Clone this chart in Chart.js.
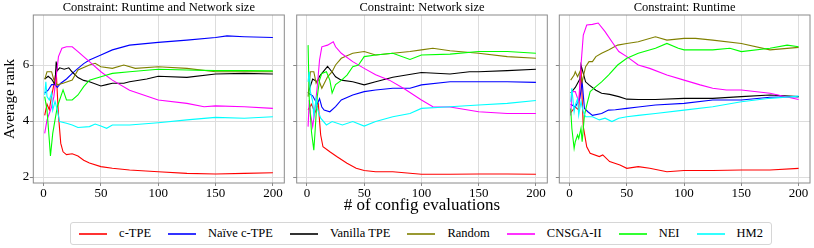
<!DOCTYPE html>
<html><head><meta charset="utf-8">
<script src="https://cdn.jsdelivr.net/npm/chart.js@4/dist/chart.umd.min.js"></script>
<style>
html,body{margin:0;padding:0;background:#fff;}
#wrap{position:relative;width:814px;height:248px;overflow:hidden;background:#fff;font-family:'Liberation Serif','Times New Roman',serif;}
canvas{position:absolute;top:0;}
#legendWrap{position:absolute;left:0;top:222px;width:842px;display:flex;justify-content:center;}
#legend{display:flex;align-items:center;height:21px;border:1px solid #d6d6d6;border-radius:3px;padding:0 8px;font-size:12.5px;color:#000;white-space:nowrap;}
.item{display:flex;align-items:center;margin-right:17px;}
.item:last-child{margin-right:0;}
.swatch{display:block;margin-right:12px;}
</style></head><body>
<div id="wrap">
<canvas id="c1" width="290" height="200" style="left:0px"></canvas>
<canvas id="c2" width="264" height="216" style="left:290px"></canvas>
<canvas id="c3" width="260" height="200" style="left:554px"></canvas>
<div id="legendWrap"><div id="legend"></div></div>
</div>
<script>
// ---- labels ----
const seriesNames = ['c-TPE', 'Naïve c-TPE', 'Vanilla TPE', 'Random', 'CNSGA-II', 'NEI', 'HM2'];
const seriesColors = ['#ff0000', '#0000ff', '#000000', '#808000', '#ff00ff', '#00ff00', '#00ffff'];
const panelTitles = ['Constraint: Runtime and Network size', 'Constraint: Network size', 'Constraint: Runtime'];
const xTicks = [0, 50, 100, 150, 200];
const yTicks = [2, 4, 6];
const xLabel = '# of config evaluations';
const yLabel = 'Average rank';

// ---- Panel 1: Runtime and Network size  ([evaluation, average rank]) ----
const rn_ctpe = [[1,4.2],[3,4.6],[5,4.4],[7,4.9],[9,5.3],[11,5.8],[13,4.2],[15,3.2],[17,2.9],[20,2.8],[25,2.83],[30,2.75],[35,2.6],[40,2.5],[50,2.37],[60,2.31],[75,2.25],[100,2.19],[125,2.13],[150,2.11],[175,2.13],[200,2.15]];
const rn_naive = [[1,5.0],[4,5.1],[7,5.3],[10,5.3],[12,5.2],[15,5.35],[20,5.5],[25,5.7],[30,5.88],[35,6.05],[40,6.18],[50,6.36],[60,6.54],[75,6.71],[100,6.81],[125,6.89],[150,6.98],[160,7.04],[175,7.01],[200,6.98]];
const rn_vanilla = [[1,5.5],[4,5.6],[7,5.5],[10,5.3],[11,6.12],[12,5.8],[14,5.9],[18,5.85],[22,5.9],[25,5.75],[30,5.55],[35,5.45],[40,5.4],[50,5.25],[55,5.3],[60,5.35],[70,5.35],[75,5.4],[90,5.5],[100,5.6],[125,5.56],[150,5.68],[175,5.7],[200,5.68]];
const rn_random = [[1,5.49],[3,5.76],[7,5.76],[9,5.46],[12,5.29],[17,5.35],[25,5.46],[30,5.82],[40,6.0],[45,6.06],[50,5.94],[60,5.88],[70,6.0],[80,5.88],[100,5.94],[125,5.88],[150,5.76],[175,5.76],[200,5.76]];
const rn_cnsga = [[1,3.56],[3,4.04],[5,4.27],[7,4.51],[9,4.87],[11,5.58],[13,6.3],[16,6.6],[20,6.65],[25,6.65],[30,6.48],[35,6.3],[40,6.12],[50,5.76],[60,5.46],[75,5.1],[100,4.75],[125,4.63],[140,4.51],[150,4.54],[175,4.51],[200,4.45]];
const rn_nei = [[1,4.87],[3,4.39],[5,3.32],[6,2.75],[8,3.56],[10,4.04],[12,4.51],[14,4.75],[17,5.11],[20,4.75],[25,4.75],[30,4.93],[35,5.23],[40,5.46],[50,5.58],[60,5.7],[75,5.76],[100,5.85],[125,5.82],[150,5.8],[175,5.8],[200,5.79]];
const rn_hm2 = [[1,4.93],[2,5.4],[3,4.87],[5,4.75],[7,5.0],[8,4.39],[10,4.7],[12,4.39],[14,3.98],[20,3.92],[25,3.86],[30,3.77],[40,3.8],[45,3.89],[50,3.82],[55,3.74],[60,3.86],[75,3.86],[100,3.94],[125,4.04],[150,4.13],[175,4.1],[200,4.15]];

// ---- Panel 2: Network size ----
const n_ctpe = [[1,4.4],[4,4.6],[7,4.3],[10,4.6],[11,4.0],[12,3.5],[14,3.08],[20,2.9],[26,2.73],[35,2.49],[43,2.31],[50,2.23],[60,2.19],[75,2.19],[100,2.1],[125,2.1],[150,2.11],[175,2.11],[200,2.1]];
const n_naive = [[1,5.0],[5,4.9],[9,4.6],[11,4.8],[13,4.5],[15,4.39],[20,4.33],[25,4.51],[30,4.75],[40,4.93],[50,5.05],[60,5.11],[75,5.17],[90,5.17],[100,5.29],[125,5.4],[150,5.4],[175,5.4],[200,5.38]];
const n_vanilla = [[1,5.0],[5,5.5],[9,5.4],[11,5.6],[13,5.7],[15,5.8],[18,5.95],[22,5.75],[25,5.58],[30,5.46],[40,5.4],[50,5.29],[60,5.4],[75,5.56],[100,5.73],[125,5.68],[142,5.76],[150,5.76],[175,5.8],[200,5.85]];
const n_random = [[1,4.87],[3,5.76],[6,5.76],[8,5.35],[10,5.5],[13,5.17],[18,5.58],[22,5.76],[25,6.0],[30,6.24],[40,6.42],[50,6.48],[60,6.36],[75,6.42],[90,6.48],[100,6.54],[110,6.6],[125,6.51],[150,6.42],[175,6.3],[200,6.24]];
const n_cnsga = [[1,3.8],[2,4.75],[3,4.27],[5,3.8],[7,4.39],[9,5.23],[11,6.18],[13,6.65],[18,6.71],[23,6.83],[25,6.65],[30,6.42],[40,6.12],[50,5.88],[60,5.65],[72,5.46],[85,5.15],[100,4.75],[110,4.51],[125,4.5],[150,4.33],[175,4.27],[200,4.27]];
const n_nei = [[1,6.71],[2,4.8],[4,3.6],[6,2.96],[7,3.56],[9,4.87],[11,5.46],[13,5.7],[17,5.76],[20,5.46],[22,5.0],[25,5.3],[30,5.45],[35,5.64],[40,5.94],[45,6.0],[50,6.3],[60,6.36],[75,6.42],[90,6.2],[100,6.36],[125,6.39],[150,6.48],[175,6.48],[200,6.42]];
const n_hm2 = [[1,5.4],[2,5.76],[3,5.05],[5,4.69],[6,4.2],[8,4.8],[9,4.45],[12,4.1],[17,3.86],[22,3.98],[31,3.86],[40,3.98],[50,3.82],[60,3.98],[75,4.15],[90,4.27],[100,4.45],[125,4.51],[150,4.57],[175,4.63],[200,4.73]];

// ---- Panel 3: Runtime ----
const r_ctpe = [[1,4.3],[5,4.5],[8,4.4],[10,5.9],[11,4.8],[12,3.8],[15,3.08],[18,2.85],[26,2.73],[29,2.79],[35,2.55],[44,2.43],[50,2.31],[60,2.37],[70,2.31],[85,2.19],[100,2.23],[125,2.23],[150,2.25],[175,2.25],[200,2.31]];
const r_naive = [[1,4.6],[5,4.5],[9,4.8],[11,5.4],[13,4.45],[16,4.33],[20,4.2],[28,4.27],[34,4.39],[40,4.4],[50,4.45],[60,4.5],[75,4.57],[100,4.63],[125,4.75],[150,4.75],[175,4.85],[200,4.87]];
const r_vanilla = [[1,5.0],[5,5.2],[9,5.5],[10,6.0],[14,5.4],[17,5.29],[23,5.1],[28,4.99],[35,4.95],[43,4.87],[50,4.78],[60,4.77],[75,4.77],[100,4.81],[125,4.81],[150,4.87],[175,4.93],[200,4.87]];
const r_random = [[1,5.46],[4,5.64],[5,5.76],[7,5.58],[9,5.76],[11,5.4],[14,5.94],[17,6.12],[20,6.12],[23,6.3],[28,6.42],[34,6.54],[42,6.71],[50,6.77],[60,6.83],[75,7.01],[85,6.89],[100,6.95],[110,6.95],[125,6.89],[150,6.77],[175,6.54],[200,6.63]];
const r_cnsga = [[1,4.2],[2,5.05],[5,5.05],[8,4.69],[10,6.0],[12,7.07],[15,7.43],[20,7.45],[25,7.5],[31,7.19],[37,6.83],[43,6.48],[50,6.3],[60,6.0],[70,5.88],[85,5.64],[100,5.46],[114,5.29],[125,5.17],[137,5.11],[150,5.11],[175,4.99],[200,4.77]];
const r_nei = [[1,4.45],[2,3.74],[4,3.02],[5,3.26],[7,3.5],[8,3.38],[10,3.74],[11,3.26],[13,4.21],[15,4.57],[18,5.05],[23,5.23],[28,5.4],[34,5.64],[42,6.0],[50,6.24],[60,6.42],[75,6.6],[85,6.77],[95,6.6],[100,6.54],[125,6.54],[140,6.6],[150,6.48],[175,6.6],[190,6.71],[200,6.65]];
const r_hm2 = [[1,4.69],[2,5.17],[4,4.33],[5,4.57],[7,4.8],[8,4.21],[10,4.69],[12,4.33],[14,4.15],[20,4.15],[26,4.04],[31,4.1],[37,3.98],[43,4.1],[50,4.15],[60,4.2],[75,4.27],[100,4.39],[125,4.51],[150,4.69],[175,4.81],[200,4.89]];

const panelSeries = [
  [rn_ctpe, rn_naive, rn_vanilla, rn_random, rn_cnsga, rn_nei, rn_hm2],
  [n_ctpe, n_naive, n_vanilla, n_random, n_cnsga, n_nei, n_hm2],
  [r_ctpe, r_naive, r_vanilla, r_random, r_cnsga, r_nei, r_hm2]
];

// ---- layout (pixels inside each canvas) ----
const FONT = "'Liberation Serif', 'Times New Roman', serif";
const panelLayout = [
  {id:'c1', w:290, h:200, left:33.3, right:284.3, yLabels:true,  xTitle:false},
  {id:'c2', w:264, h:216, left:6.7,  right:257.3, yLabels:false, xTitle:true},
  {id:'c3', w:260, h:200, left:5.3,  right:256.0, yLabels:false, xTitle:false}
];
const PLOT_BOTTOM = 183;

const boxPlugin = {
  id: 'box',
  afterDatasetsDraw(chart) {
    const {ctx, chartArea: a} = chart;
    ctx.save();
    ctx.strokeStyle = '#8a8a8a';
    ctx.lineWidth = 1;
    ctx.strokeRect(a.left, a.top, a.right - a.left, a.bottom - a.top);
    ctx.restore();
  }
};

panelLayout.forEach((L, p) => {
  const datasets = panelSeries[p].map((arr, i) => ({
    label: seriesNames[i],
    data: arr.map(([x, y]) => ({x, y})),
    borderColor: seriesColors[i],
    backgroundColor: seriesColors[i],
    borderWidth: 1.1,
    pointRadius: 0,
    tension: 0,
    fill: false,
    order: seriesNames.length - i
  }));
  new Chart(document.getElementById(L.id), {
    type: 'line',
    data: {datasets},
    plugins: [boxPlugin],
    options: {
      responsive: false,
      animation: false,
      events: [],
      layout: {padding: {left: 0, right: L.w - L.right, top: 0, bottom: 0}},
      plugins: {
        legend: {display: false},
        tooltip: {enabled: false},
        title: {
          display: true, text: panelTitles[p], fullSize: false,
          color: '#000', padding: 0,
          font: {family: FONT, size: 12.5, weight: 'normal', lineHeight: 1.2}
        }
      },
      scales: {
        x: {
          type: 'linear', min: -8.95, max: 209.95,
          afterBuildTicks: s => { s.ticks = xTicks.map(v => ({value: v})); },
          afterFit: s => { s.height = L.h - PLOT_BOTTOM; },
          grid: {color: '#dddddd', lineWidth: 1, drawTicks: true, tickLength: 3, tickColor: '#8a8a8a'},
          border: {display: false},
          ticks: {color: '#000', padding: -0.5, maxRotation: 0, autoSkip: false,
                  font: {family: FONT, size: 13, lineHeight: 1.2}},
          title: {display: L.xTitle, text: xLabel, color: '#000', padding: 0,
                  font: {family: FONT, size: 17, lineHeight: 1.2}}
        },
        y: {
          type: 'linear', min: 1.786, max: 7.786,
          afterBuildTicks: s => { s.ticks = yTicks.map(v => ({value: v})); },
          afterFit: s => { s.width = L.left; },
          grid: {color: '#dddddd', lineWidth: 1, drawTicks: true, tickLength: 3.5, tickColor: '#8a8a8a'},
          border: {display: false},
          ticks: {display: L.yLabels, color: '#000', padding: 0.5,
                  font: {family: FONT, size: 13, lineHeight: 1.2}},
          title: {display: L.yLabels, text: yLabel, color: '#000', padding: {top: 1, bottom: 0},
                  font: {family: FONT, size: 15, lineHeight: 1.2}}
        }
      }
    }
  });
});

// ---- legend (HTML text, SVG line swatches) ----
const SVGNS = 'http://www.w3.org/2000/svg';
const legend = document.getElementById('legend');
seriesNames.forEach((name, i) => {
  const item = document.createElement('div');
  item.className = 'item';
  const svg = document.createElementNS(SVGNS, 'svg');
  svg.setAttribute('width', '28');
  svg.setAttribute('height', '6');
  svg.setAttribute('class', 'swatch');
  const ln = document.createElementNS(SVGNS, 'line');
  ln.setAttribute('x1', '0'); ln.setAttribute('y1', '3');
  ln.setAttribute('x2', '28'); ln.setAttribute('y2', '3');
  ln.setAttribute('stroke', seriesColors[i]);
  ln.setAttribute('stroke-width', '1.6');
  svg.appendChild(ln);
  const tx = document.createElement('span');
  tx.textContent = name;
  item.appendChild(svg); item.appendChild(tx);
  legend.appendChild(item);
});
</script>
</body></html>
